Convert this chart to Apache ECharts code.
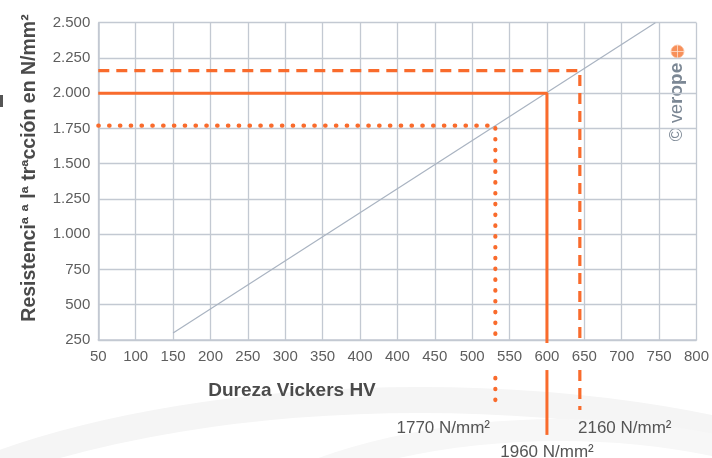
<!DOCTYPE html>
<html><head><meta charset="utf-8">
<script src="https://cdn.jsdelivr.net/npm/echarts@6/dist/echarts.min.js"></script>
<style>html,body{margin:0;padding:0;background:#fff}#c{width:712px;height:458px}</style>
</head><body><div id="c"></div>
<script>
// Tick labels (the reference shows "400" twice)
const xTickLabels = ['50','100','150','200','250','300','350','400','400','450','500','550','600','650','700','750','800'];
const yTickLabels = ['250','500','750','1.000','1.250','1.500','1.750','2.000','2.250','2.500'];
// Diagonal relation line
const diagonalHV = [100, 745];
const diagonalStrength = [300, 2500];
// Reference lines: dotted, solid, dashed
const refHV = [531, 600, 644];
const refStrength = [1770, 2000, 2160];
const refGapTop = [221, 229, 229];
const refLowerStart = [-19, 37, 37];
const refLowerEnd = [-196, -423, -246];
const refLabels = ['1770 N/mm²', '1960 N/mm²', '2160 N/mm²'];

const ORANGE = '#f96b2c';
const GRIDC = '#c3c9d2';
const FONT = 'Liberation Sans, Arial, sans-serif';
const refStyles = [
  { type: [0.5, 10.3], cap: 'round', width: 4.2 },
  { type: 'solid', width: 3 },
  { type: [11, 7], width: 3.2 }
];

const series = [{
  type: 'line', symbol: 'none', silent: true,
  data: diagonalHV.map((x, i) => [x, diagonalStrength[i]]),
  lineStyle: { color: '#a9b3c1', width: 1.2 }, z: 3
}];
refHV.forEach((hv, i) => {
  const ls = Object.assign({ color: ORANGE }, refStyles[i]);
  series.push({
    type: 'line', symbol: 'none', silent: true, clip: false, z: 5,
    data: [[0, refStrength[i]], [hv, refStrength[i]], [hv, refGapTop[i]]],
    lineStyle: ls
  });
  series.push({
    type: 'line', symbol: 'none', silent: true, clip: false, z: 5,
    data: [[hv, refLowerStart[i]], [hv, refLowerEnd[i]]],
    lineStyle: ls
  });
});

const chart = echarts.init(document.getElementById('c'), null, { renderer: 'canvas' });
chart.setOption({
  animation: false,
  backgroundColor: '#fff',
  grid: { left: 98.3, right: 15.3, top: 22.7, bottom: 118, containLabel: false },
  xAxis: {
    type: 'value', min: 0, max: 800, interval: 50,
    axisLine: { show: true, lineStyle: { color: GRIDC, width: 1.6 } },
    axisTick: { show: false },
    splitLine: { show: true, lineStyle: { color: GRIDC, width: 1.3 } },
    axisLabel: { formatter: v => xTickLabels[Math.round(v / 50)], color: '#5e5e5e', fontSize: 15, fontFamily: FONT, margin: 9, showMinLabel: true, showMaxLabel: true }
  },
  yAxis: {
    type: 'value', min: 250, max: 2500, interval: 250,
    axisLine: { show: true, lineStyle: { color: GRIDC, width: 1.6 } },
    axisTick: { show: false },
    splitLine: { show: true, lineStyle: { color: GRIDC, width: 1.3 } },
    axisLabel: { formatter: v => yTickLabels[Math.round((v - 250) / 250)], color: '#5e5e5e', fontSize: 15, fontFamily: FONT, margin: 8, showMinLabel: true, showMaxLabel: true }
  },
  series: series,
  graphic: [
    { type: 'ellipse', shape: { cx: 420, cy: 640, rx: 620, ry: 240 }, style: { fill: 'none', stroke: '#f5f5f5', lineWidth: 26 }, z: -10, silent: true },
    { type: 'ellipse', shape: { cx: 560, cy: 660, rx: 430, ry: 230 }, style: { fill: 'none', stroke: '#f7f7f7', lineWidth: 22 }, z: -10, silent: true },
    { type: 'rect', shape: { x: 0, y: 95, width: 3, height: 12 }, style: { fill: '#555' }, silent: true },
    { type: 'text', x: 30, y: 168, rotation: Math.PI / 2, style: { text: 'Resistenciª ª lª trªcción en N/mm²', font: 'bold 19.5px ' + FONT, fill: '#4a4a4a', align: 'center', verticalAlign: 'middle' } },
    { type: 'text', x: 292, y: 391, style: { text: 'Dureza Vickers HV', font: 'bold 19px ' + FONT, fill: '#4a4a4a', align: 'center', verticalAlign: 'middle' } },
    { type: 'text', x: 490, y: 428, style: { text: refLabels[0], font: '17px ' + FONT, fill: '#555', align: 'right', verticalAlign: 'middle' } },
    { type: 'text', x: 547, y: 452, style: { text: refLabels[1], font: '17px ' + FONT, fill: '#555', align: 'center', verticalAlign: 'middle' } },
    { type: 'text', x: 578, y: 428, style: { text: refLabels[2], font: '17px ' + FONT, fill: '#555', align: 'left', verticalAlign: 'middle' } },
    { type: 'text', x: 677, y: 102, rotation: Math.PI / 2, style: {
        text: '{a|© ve}{b|rope}', align: 'center', verticalAlign: 'middle',
        rich: { a: { font: '18px ' + FONT, fill: '#7b8794' }, b: { font: 'bold 19px ' + FONT, fill: '#7b8794' } } } },
    { type: 'circle', shape: { cx: 677.5, cy: 51.5, r: 6.5 }, style: { fill: '#f7905a', stroke: '#fbc4a6', lineWidth: 0.8 } },
    { type: 'line', shape: { x1: 671, y1: 51.5, x2: 684, y2: 51.5 }, style: { stroke: '#fde0cf', lineWidth: 0.8 } },
    { type: 'line', shape: { x1: 677.5, y1: 45, x2: 677.5, y2: 58 }, style: { stroke: '#fde0cf', lineWidth: 0.8 } }
  ]
});
</script></body></html>
